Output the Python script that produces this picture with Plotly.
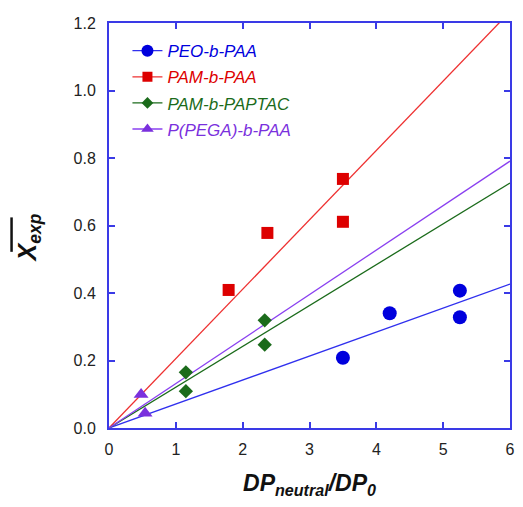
import plotly.graph_objects as go

# ---- data ----
series_names = ["PEO-b-PAA", "PAM-b-PAA", "PAM-b-PAPTAC", "P(PEGA)-b-PAA"]

peo_x = [3.5, 4.2, 5.25, 5.25]
peo_y = [0.208, 0.340, 0.407, 0.328]

pam_x = [1.79, 2.37, 3.5, 3.5]
pam_y = [0.409, 0.578, 0.738, 0.611]

paptac_x = [1.15, 1.15, 2.33, 2.33]
paptac_y = [0.165, 0.109, 0.319, 0.247]

pega_x = [0.48, 0.54]
pega_y = [0.099, 0.044]

fit_slopes = [0.0711, 0.2056, 0.121, 0.1318]
fit_x = [0.0, 6.0]

x_ticks = [0, 1, 2, 3, 4, 5, 6]
x_tick_text = ["0", "1", "2", "3", "4", "5", "6"]
y_ticks = [0.0, 0.2, 0.4, 0.6, 0.8, 1.0, 1.2]
y_tick_text = ["0.0", "0.2", "0.4", "0.6", "0.8", "1.0", "1.2"]

# ---- styles ----
marker_colors = ["#0000dd", "#dd0000", "#1b6b1b", "#7a30dd"]
line_colors = ["#3030ee", "#ee3030", "#1b6b1b", "#8a40f0"]
symbols = ["circle", "square", "diamond", "triangle-up"]
sizes = [14, 12, 11, 13]
xs = [peo_x, pam_x, paptac_x, pega_x]
ys = [peo_y, pam_y, paptac_y, pega_y]

fig = go.Figure()

for i, name in enumerate(series_names):
    fx = fit_x
    fy = [fit_slopes[i] * v for v in fx]
    fig.add_trace(go.Scatter(
        x=fx, y=fy, mode="lines",
        line=dict(color=line_colors[i], width=1.3),
        showlegend=False, hoverinfo="skip", legendgroup=name,
    ))

for i, name in enumerate(series_names):
    fig.add_trace(go.Scatter(
        x=xs[i], y=ys[i], mode="markers",
        marker=dict(symbol=symbols[i], size=sizes[i], color=marker_colors[i],
                    line=dict(width=0)),
        name=f"<i><span style='color:{marker_colors[i]}'>{name}</span></i>",
        showlegend=False, legendgroup=name,
    ))
    fig.add_trace(go.Scatter(
        x=[None], y=[None], mode="lines+markers",
        marker=dict(symbol=symbols[i], size=sizes[i] - 2, color=marker_colors[i]),
        line=dict(color=line_colors[i], width=1.3),
        name=f"<i><span style='color:{marker_colors[i]}'>{name}</span></i>",
        showlegend=True, legendgroup=name,
    ))

axis_color = "#3a3ae6"

# the page has an 8px body margin; keep the figure inside the visible area
fig.update_layout(
    width=507, height=499,
    margin=dict(l=101, r=5, t=15, b=79, autoexpand=False),
    paper_bgcolor="white", plot_bgcolor="white",
    font=dict(family="Liberation Sans, Arial, sans-serif", size=16, color="#222222"),
    showlegend=True,
    legend=dict(
        x=0.046, y=0.975, xanchor="left", yanchor="top",
        bgcolor="rgba(0,0,0,0)", borderwidth=0,
        font=dict(size=17), itemwidth=30, tracegroupgap=1,
    ),
    xaxis=dict(
        range=[0, 6], tickvals=x_ticks, ticktext=x_tick_text,
        showgrid=False, zeroline=False,
        showline=True, linecolor=axis_color, linewidth=2, mirror="ticks",
        ticks="inside", ticklen=6, tickwidth=1.5, tickcolor=axis_color,
        tickfont=dict(size=16), ticklabelstandoff=6, automargin=False,
        ticklabeloverflow="allow",
        title=dict(text="<b><i>DP<sub>neutral</sub>/DP<sub>0</sub></i></b>",
                   font=dict(size=23, color="#111111"), standoff=18),
    ),
    yaxis=dict(
        range=[0, 1.2], tickvals=y_ticks, ticktext=y_tick_text, showgrid=False,
        zeroline=False, showline=True, linecolor=axis_color, linewidth=2,
        mirror="ticks", ticks="inside", ticklen=6, tickwidth=1.5,
        tickcolor=axis_color, tickfont=dict(size=16), ticklabelstandoff=8,
        automargin=False,
    ),
)

# y-axis title: X with overbar, subscript exp
fig.add_annotation(
    text="<b><i>X<sub>exp</sub></i></b>", textangle=-90,
    xref="paper", yref="paper", x=-0.2, y=0.47,
    xanchor="center", yanchor="middle", showarrow=False,
    font=dict(size=25, color="#111111"),
)
fig.add_shape(
    type="line", xref="paper", yref="paper",
    x0=-0.243, x1=-0.243, y0=0.435, y1=0.520,
    line=dict(color="#111111", width=2.5),
)

fig.write_html("out.html")
